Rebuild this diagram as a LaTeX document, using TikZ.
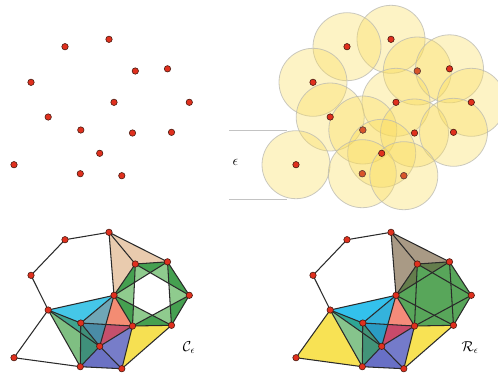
\documentclass[tikz,border=0pt]{standalone}
\usetikzlibrary{calc}
\definecolor{edgec}{HTML}{2A2A2A}
\definecolor{dotc}{HTML}{E0301E}
\definecolor{dotb}{HTML}{4A1A10}
\definecolor{dotor}{HTML}{D9542A}
\definecolor{ballc}{RGB}{250,220,90}
\definecolor{ballb}{RGB}{185,185,178}
\definecolor{epsl}{RGB}{195,195,195}
% Cech colours
\definecolor{beigeC}{HTML}{E9CBAE}
\definecolor{gdarkC}{HTML}{45A050}
\definecolor{glightC}{HTML}{8FCB8E}
\definecolor{cyanC}{HTML}{45C7E8}
\definecolor{steelC}{HTML}{6FA6B6}
\definecolor{salmonC}{HTML}{F38C73}
\definecolor{dsteelC}{HTML}{4A8CA6}
\definecolor{crimsonC}{HTML}{C5506C}
\definecolor{tealC}{HTML}{3FA38E}
\definecolor{lgreenC}{HTML}{7FBF82}
\definecolor{dgreenC}{HTML}{3F907A}
\definecolor{blueC}{HTML}{6B72C4}
\definecolor{yellowC}{HTML}{F6E052}
% Rips colours
\definecolor{brownR}{HTML}{A99A85}
\definecolor{oliveR}{HTML}{647D4C}
\definecolor{greenR}{HTML}{58A65A}
\definecolor{cyanR}{HTML}{33C1EC}
\definecolor{cyan2R}{HTML}{34B3DC}
\definecolor{salmonR}{HTML}{F58B7A}
\definecolor{dcyanR}{HTML}{2A9CC4}
\definecolor{crimsonR}{HTML}{C94A6A}
\definecolor{tealR}{HTML}{2EA694}
\definecolor{lgreenR}{HTML}{86C48C}
\definecolor{dgreenR}{HTML}{429478}
\definecolor{blueR}{HTML}{6870C6}
\definecolor{yellowR}{HTML}{F8E254}

\def\ptlist{A/109/39.3,B/65/46.7,C/135.3/71,D/167.5/68.8,E/31/82.3,F/114/102.3,G/189.3/102.3,H/48.2/117,I/80.8/130,J/132.5/133,K/171.5/132.3,L/99.7/153.3,M/14/164.7,N/80.3/173.7,O/121.8/175.7}
\def\edgelist{E/B,B/A,E/H,H/M,M/N,A/F,A/C,A/D,C/D,D/G,G/K,K/J,J/F,F/C,F/D,C/G,D/K,G/J,K/F,J/C,H/F,H/I,H/L,H/N,I/F,I/J,I/L,I/N,F/L,J/L,L/N,L/O,N/O,J/O,K/O}
\newcommand{\mkpts}[3]{\foreach \n/\x/\y in \ptlist {\coordinate (#1\n) at ({\x+#2},{\y+#3});}}
\newcommand{\drawedges}[1]{\foreach \u/\v in \edgelist {\draw[edge] (#1\u)--(#1\v);}}
\newcommand{\drawdots}[1]{\foreach \n in {A,B,C,D,E,F,G,H,I,J,K,L,M,N,O} {\node[dot] (#1\n dot) at (#1\n) {};}}

\begin{document}
\begin{tikzpicture}[x=1bp,y=-1bp,
  edge/.style={draw=edgec,line width=1.05bp,line join=round,line cap=round},
  dot/.style={circle,fill=dotc,draw=dotb,line width=0.6bp,minimum size=6.4bp,inner sep=0pt},
  ball/.style={fill=ballc,fill opacity=0.35,draw=ballb,draw opacity=0.75,line width=0.8bp},
  epsline/.style={draw=epsl,line width=0.9bp},
  lab/.style={font=\Large,inner sep=0pt}]
\useasboundingbox (0,0) rectangle (498,374);

\mkpts{t}{0}{0}
\mkpts{u}{282}{0}
\mkpts{c}{0}{193}
\mkpts{r}{282}{193}

% ---------- top left: points ----------
\drawdots{t}

% ---------- top right: balls ----------
\coordinate (e1a) at (229,130.7);
\coordinate (e1b) at (287,130.7);
\coordinate (e2a) at (229,199);
\coordinate (e2b) at (287,199);
\draw[epsline] (e1a)--(e1b);
\draw[epsline] (e2a)--(e2b);
\node[lab] (eps) at (235.5,162) {$\epsilon$};
\foreach \n in {A,B,C,D,E,F,G,H,I,J,K,L,M,N,O} {\path[ball] (u\n) circle[radius=34bp];}
\drawdots{u}
\foreach \n in {C,I,N,O} {\node[dot,fill=dotor,draw=dotb!80] (u\n odot) at (u\n) {};}

% ---------- bottom left: Cech ----------
\coordinate (cX) at (intersection of cF--cL and cI--cJ);
\fill[beigeC] (cA)--(cD)--(cC)--(cF)--cycle;
\fill[gdarkC] (cC)--(cD)--(cG)--(cK)--(cJ)--(cF)--cycle;
\fill[glightC] (cF)--(cD)--(cK)--cycle;
\fill[glightC] (cC)--(cG)--(cJ)--cycle;
\begin{scope}
\clip (cF)--(cD)--(cK)--cycle;
\fill[white] (cC)--(cG)--(cJ)--cycle;
\end{scope}
\fill[cyanC] (cH)--(cF)--(cI)--cycle;
\fill[steelC] (cI)--(cF)--(cX)--cycle;
\fill[salmonC] (cX)--(cF)--(cJ)--cycle;
\fill[dsteelC] (cI)--(cX)--(cL)--cycle;
\fill[crimsonC] (cX)--(cJ)--(cL)--cycle;
\fill[tealC] (cH)--(cI)--(cL)--cycle;
\fill[lgreenC] (cH)--(cL)--(cN)--cycle;
\fill[dgreenC] (cI)--(cL)--(cN)--cycle;
\fill[blueC] (cN)--(cL)--(cO)--cycle;
\fill[blueC!92!white] (cL)--(cJ)--(cO)--cycle;
\fill[yellowC] (cJ)--(cK)--(cO)--cycle;
\drawedges{c}
\drawdots{c}
\node[lab] (clabel) at (189,348) {$\mathcal{C}_\epsilon$};

% ---------- bottom right: Rips ----------
\coordinate (rX) at (intersection of rF--rL and rI--rJ);
\coordinate (rX1) at (intersection of rF--rD and rC--rG);
\coordinate (rX2) at (intersection of rF--rD and rC--rJ);
\fill[brownR] (rA)--(rD)--(rC)--(rF)--cycle;
\fill[greenR] (rC)--(rD)--(rG)--(rK)--(rJ)--(rF)--cycle;
\fill[oliveR] (rC)--(rD)--(rX1)--cycle;
\fill[oliveR] (rF)--(rC)--(rX2)--cycle;
\fill[yellowR] (rM)--(rH)--(rN)--cycle;
\fill[cyanR] (rH)--(rF)--(rI)--cycle;
\fill[cyan2R] (rI)--(rF)--(rX)--cycle;
\fill[salmonR] (rX)--(rF)--(rJ)--cycle;
\fill[dcyanR] (rI)--(rX)--(rL)--cycle;
\fill[crimsonR] (rX)--(rJ)--(rL)--cycle;
\fill[tealR] (rH)--(rI)--(rL)--cycle;
\fill[lgreenR] (rH)--(rL)--(rN)--cycle;
\fill[dgreenR] (rI)--(rL)--(rN)--cycle;
\fill[blueR] (rN)--(rL)--(rO)--cycle;
\fill[blueR!92!white] (rL)--(rJ)--(rO)--cycle;
\fill[yellowR] (rJ)--(rK)--(rO)--cycle;
\drawedges{r}
\drawdots{r}
\node[lab] (rlabel) at (470,348) {$\mathcal{R}_\epsilon$};
\end{tikzpicture}
\end{document}
